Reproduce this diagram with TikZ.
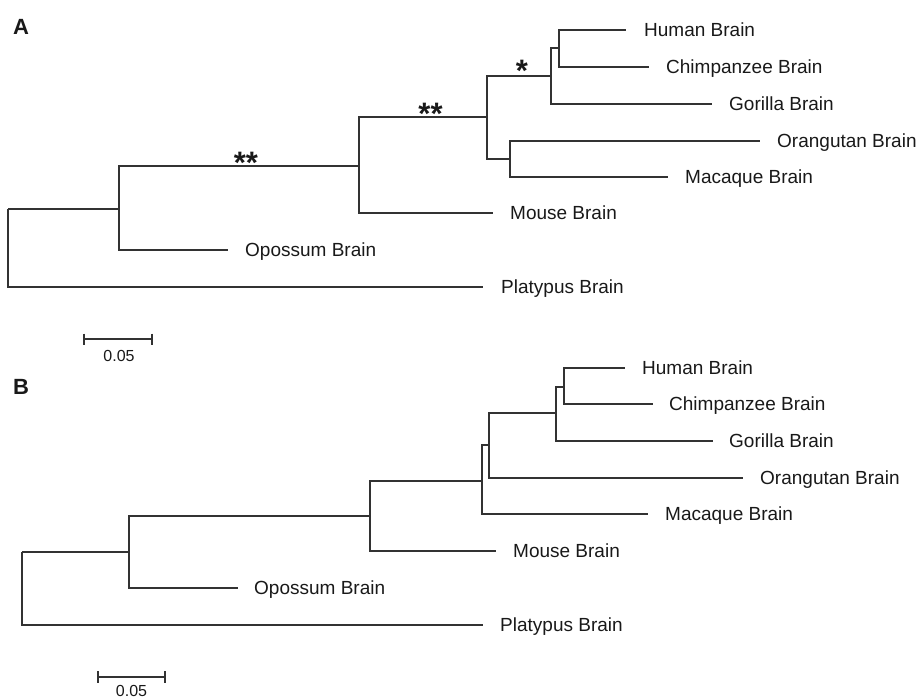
\documentclass[tikz,border=0pt]{standalone}
\usepackage{fontspec}
\setmainfont{Liberation Sans}
\definecolor{linec}{RGB}{50,50,50}
\definecolor{textc}{RGB}{25,25,25}
\begin{document}
\begin{tikzpicture}[x=1pt,y=-1pt,
  br/.style={draw=linec, line width=1.8pt, line join=miter},
  lab/.style={anchor=base west, inner sep=0pt, text=textc, font=\fontsize{19}{22}\selectfont},
  panel/.style={anchor=base west, inner sep=0pt, text=textc, font=\fontsize{22}{24}\selectfont\bfseries},
  star/.style={anchor=base, inner sep=0pt, text=textc, font=\fontsize{31}{33}\selectfont\bfseries},
  scl/.style={anchor=base, inner sep=0pt, text=textc, font=\fontsize{16}{18}\selectfont}]
\useasboundingbox (0,0) rectangle (918,699);
% ---------------- Tree A ----------------
\node[panel] (pA) at (13,34) {A};
\coordinate (aR) at (8,209);
\coordinate (a1) at (119,209);
\coordinate (a2) at (359,166);
\coordinate (a3) at (487,117);
\coordinate (a4) at (551,76);
\coordinate (a5) at (559,48);
\coordinate (a6) at (510,159);
\coordinate (aHum) at (626,30);
\coordinate (aChi) at (649,67);
\coordinate (aGor) at (712,104);
\coordinate (aOra) at (760,141);
\coordinate (aMac) at (668,177);
\coordinate (aMou) at (493,213);
\coordinate (aOpo) at (228,250);
\coordinate (aPla) at (483,287);
\draw[br] (aR) |- (a1);
\draw[br] (aR) |- (aPla);
\draw[br] (a1) |- (a2);
\draw[br] (a1) |- (aOpo);
\draw[br] (a2) |- (a3);
\draw[br] (a2) |- (aMou);
\draw[br] (a3) |- (a4);
\draw[br] (a3) |- (a6);
\draw[br] (a4) |- (a5);
\draw[br] (a4) |- (aGor);
\draw[br] (a5) |- (aHum);
\draw[br] (a5) |- (aChi);
\draw[br] (a6) |- (aOra);
\draw[br] (a6) |- (aMac);
\node[lab] (laHum) at (644,36.8) {Human Brain};
\node[lab] (laChi) at (666,73.8) {Chimpanzee Brain};
\node[lab] (laGor) at (729,110.8) {Gorilla Brain};
\node[lab] (laOra) at (777,147.8) {Orangutan Brain};
\node[lab] (laMac) at (685,183.8) {Macaque Brain};
\node[lab] (laMou) at (510,219.8) {Mouse Brain};
\node[lab] (laOpo) at (245,256.8) {Opossum Brain};
\node[lab] (laPla) at (501,293.8) {Platypus Brain};
\node[star] (s1) at (246,173.5) {**};
\node[star] (s2) at (430.5,124.5) {**};
\node[star] (s3) at (522,81.5) {*};
% scale bar A
\coordinate (sa1) at (84,339);
\coordinate (sa2) at (152,339);
\draw[br] (sa1) -- (sa2);
\draw[br] ([yshift=5.5pt]sa1) -- ([yshift=-5.5pt]sa1);
\draw[br] ([yshift=5.5pt]sa2) -- ([yshift=-5.5pt]sa2);
\node[scl] (sla) at (119,361.3) {0.05};
% ---------------- Tree B ----------------
\node[panel] (pB) at (13,394) {B};
\coordinate (bR) at (22,552);
\coordinate (b1) at (129,552);
\coordinate (b2) at (370,516);
\coordinate (b3) at (482,481);
\coordinate (b7) at (489,445);
\coordinate (b4) at (556,413);
\coordinate (b5) at (564,387);
\coordinate (bHum) at (625,368);
\coordinate (bChi) at (653,404);
\coordinate (bGor) at (713,441);
\coordinate (bOra) at (743,478);
\coordinate (bMac) at (648,514);
\coordinate (bMou) at (496,551);
\coordinate (bOpo) at (238,588);
\coordinate (bPla) at (483,625);
\draw[br] (bR) |- (b1);
\draw[br] (bR) |- (bPla);
\draw[br] (b1) |- (b2);
\draw[br] (b1) |- (bOpo);
\draw[br] (b2) |- (b3);
\draw[br] (b2) |- (bMou);
\draw[br] (b3) |- (b7);
\draw[br] (b3) |- (bMac);
\draw[br] (b7) |- (b4);
\draw[br] (b7) |- (bOra);
\draw[br] (b4) |- (b5);
\draw[br] (b4) |- (bGor);
\draw[br] (b5) |- (bHum);
\draw[br] (b5) |- (bChi);
\node[lab] (lbHum) at (642,374.8) {Human Brain};
\node[lab] (lbChi) at (669,410.8) {Chimpanzee Brain};
\node[lab] (lbGor) at (729,447.8) {Gorilla Brain};
\node[lab] (lbOra) at (760,484.8) {Orangutan Brain};
\node[lab] (lbMac) at (665,520.8) {Macaque Brain};
\node[lab] (lbMou) at (513,557.8) {Mouse Brain};
\node[lab] (lbOpo) at (254,594.8) {Opossum Brain};
\node[lab] (lbPla) at (500,631.8) {Platypus Brain};
% scale bar B
\coordinate (sb1) at (98,677);
\coordinate (sb2) at (165,677);
\draw[br] (sb1) -- (sb2);
\draw[br] ([yshift=6pt]sb1) -- ([yshift=-6pt]sb1);
\draw[br] ([yshift=6pt]sb2) -- ([yshift=-6pt]sb2);
\node[scl] (slb) at (131.5,696.5) {0.05};
\end{tikzpicture}
\end{document}
